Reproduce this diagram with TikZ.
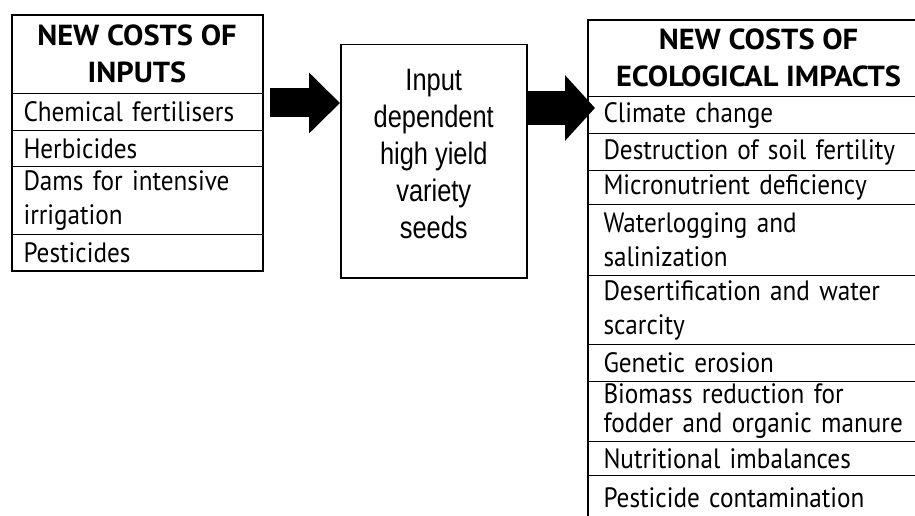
\documentclass[tikz,border=0pt]{standalone}
\usepackage{fontspec}
\usetikzlibrary{arrows.meta}
\newfontfamily\bodyf[FakeStretch=0.9]{PT Sans}
\newfontfamily\headf[FakeStretch=1.05]{PT Sans}
\newfontfamily\midf[FakeStretch=0.82]{Liberation Sans}
\newcommand\myBody{\bodyf\fontsize{28}{34}\selectfont}
\newcommand\myHead{\headf\bfseries\fontsize{29}{37}\selectfont}
\newcommand\myMid{\midf\fontsize{31}{37}\selectfont}
\begin{document}
\begin{tikzpicture}[x=1pt,y=-1pt,
  lcell/.style={draw, line width=1pt, anchor=north west, inner xsep=12pt, inner ysep=0pt,
    minimum width=251pt, text width=227pt, align=left, font=\myBody},
  rcell/.style={draw, line width=1pt, anchor=north west, inner xsep=16pt, inner ysep=0pt,
    minimum width=342pt, text width=310pt, align=left, font=\myBody},
  hcell/.style={draw, line width=1pt, anchor=north west, inner sep=0pt, align=center, font=\myHead},
  frame/.style={draw, line width=2pt, anchor=north west, inner sep=0pt}
]
\useasboundingbox (0,0) rectangle (915,516);

% left box
\node[hcell, minimum width=251pt, minimum height=79pt] (h1) at (11,14) {NEW COSTS OF\\INPUTS};
\node[lcell, minimum height=37pt] (l1) at (11,93) {Chemical fertilisers};
\node[lcell, minimum height=36pt] (l2) at (11,130) {Herbicides};
\node[lcell, minimum height=68pt] (l3) at (11,166) {Dams for intensive\\irrigation};
\node[lcell, minimum height=36pt] (l4) at (11,234) {Pesticides};
\node[frame, minimum width=251pt, minimum height=256pt] (inputs) at (11,14) {};

% middle box
\node[draw, line width=1.5pt, anchor=north west, minimum width=186pt, minimum height=233pt] (mid) at (340,44) {};
\node[font=\myMid, align=center, inner sep=0pt] (midtxt) at ([yshift=7pt]mid.center) {Input\\dependent\\high yield\\variety\\seeds};

% right box
\node[hcell, minimum width=342pt, minimum height=77pt] (h2) at (587,19) {NEW COSTS OF\\ECOLOGICAL IMPACTS};
\node[rcell, minimum height=37pt] (r1) at (587,96) {Climate change};
\node[rcell, minimum height=37pt] (r2) at (587,133) {Destruction of soil fertility};
\node[rcell, minimum height=34pt] (r3) at (587,170) {Micronutrient deficiency};
\node[rcell, minimum height=71pt] (r4) at (587,204) {Waterlogging and\\salinization};
\node[rcell, minimum height=69pt] (r5) at (587,275) {Desertification and water\\scarcity};
\node[rcell, minimum height=37pt] (r6) at (587,344) {Genetic erosion};
\node[rcell, minimum height=60pt] (r7) at (587,381) {Biomass reduction for\\[-5pt]fodder and organic manure};
\node[rcell, minimum height=34pt] (r8) at (587,441) {Nutritional imbalances};
\node[rcell, minimum height=50pt] (r9) at (587,475) {\raisebox{6pt}{Pesticide contamination}};
\node[frame, minimum width=342pt, minimum height=510pt] (impacts) at (587,19) {};

% arrows
\draw[line width=29pt, -{Triangle[length=31pt,width=59pt]}]
  ([xshift=6pt,yshift=-89pt]inputs.north east) -- ([yshift=-59pt]mid.north west);
\draw[line width=34pt, -{Triangle[length=30pt,width=64pt]}]
  ([yshift=-64pt]mid.north east) -- ([xshift=8pt,yshift=-89pt]impacts.north west);
\end{tikzpicture}
\end{document}
